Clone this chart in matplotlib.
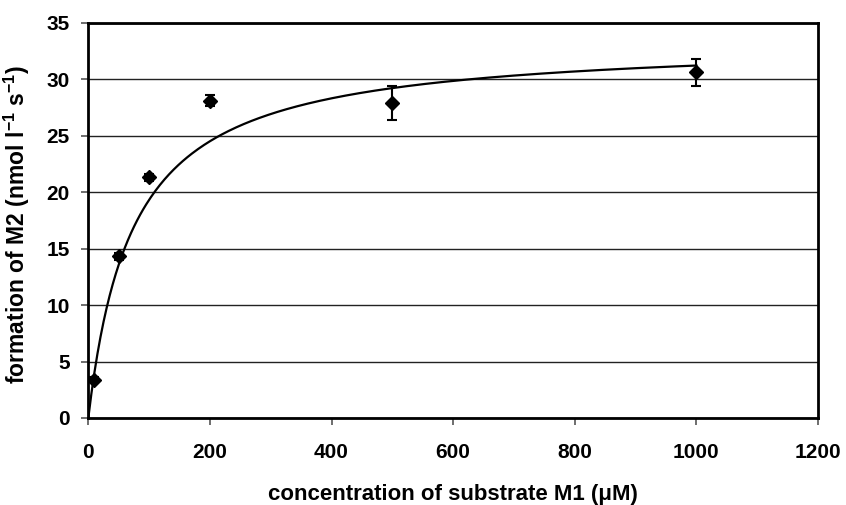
import numpy as np
import matplotlib.pyplot as plt

plt.rcParams['font.family'] = ['Liberation Sans', 'DejaVu Sans']
plt.rcParams['font.weight'] = 'bold'
plt.rcParams['mathtext.fontset'] = 'custom'
plt.rcParams['mathtext.rm'] = 'Liberation Sans:bold'
plt.rcParams['mathtext.bf'] = 'Liberation Sans:bold'
plt.rcParams['mathtext.default'] = 'rm'

# measured formation rates
conc = [10, 50, 100, 200, 500, 1000]
rate = [3.4, 14.3, 21.3, 28.1, 27.9, 30.6]
rate_err = [0.2, 0.3, 0.3, 0.5, 1.5, 1.2]

# Michaelis-Menten fit parameters
vmax = 33.5
km = 73.4

fig = plt.figure(figsize=(8.46, 5.05), dpi=100)
ax = fig.add_axes([0.1044, 0.1723, 0.8625, 0.7827])

s = np.linspace(0, 1000, 400)
ax.plot(s, vmax * s / (km + s), color='black', lw=1.6, zorder=3)

ax.errorbar(conc, rate, yerr=rate_err, fmt='D', color='black', ms=7,
            ecolor='black', elinewidth=1.5, capsize=3.6, capthick=1.5, zorder=4)

ax.set_xlim(0, 1200)
ax.set_ylim(0, 35)
ax.set_xticks(range(0, 1201, 200))
ax.set_yticks(range(0, 36, 5))
ax.yaxis.grid(True, color='#222222', lw=1)
ax.set_axisbelow(True)

for sp in ax.spines.values():
    sp.set_linewidth(2)
    sp.set_color('black')

ax.tick_params(axis='both', direction='out', length=5, width=1.2,
               labelsize=15, color='#555555')
ax.tick_params(axis='y', pad=8.5)
ax.tick_params(axis='x', pad=13)
for lab in ax.get_xticklabels() + ax.get_yticklabels():
    lab.set_fontweight('bold')

ax.set_xlabel('concentration of substrate M1 (\u03bcM)', fontsize=16,
              fontweight='bold', labelpad=16)
ax.set_ylabel('formation of M2 (nmol l$^{-1}$ s$^{-1}$)', fontsize=16.5,
              fontweight='bold')
ax.yaxis.set_label_coords(-0.077, 0.49)

fig.savefig('out.png', dpi=100)
